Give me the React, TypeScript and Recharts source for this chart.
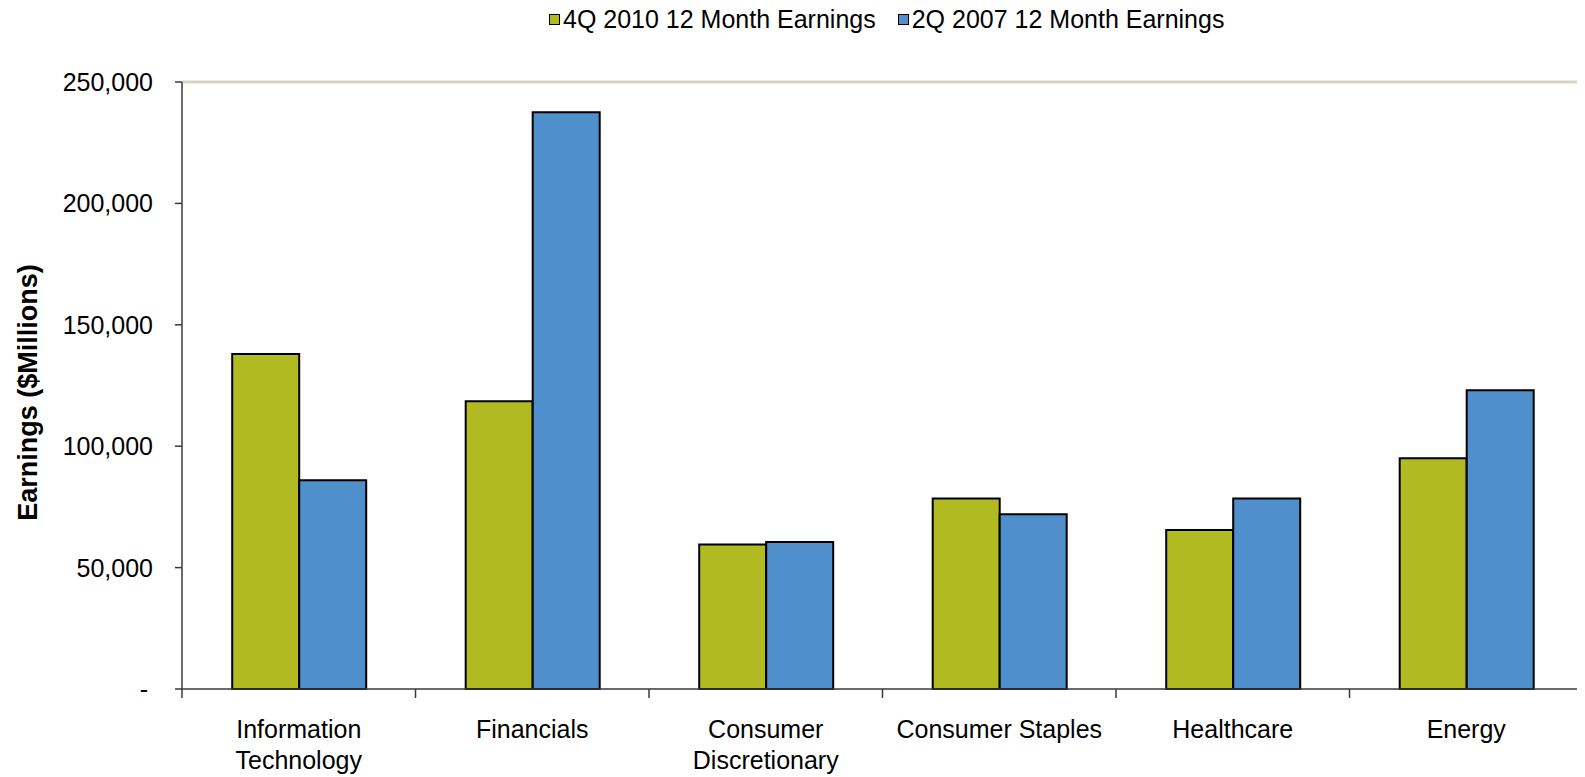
import { BarChart, Bar, XAxis, YAxis, Legend, ReferenceLine } from "recharts"

const categories = [
  "Information Technology",
  "Financials",
  "Consumer Discretionary",
  "Consumer Staples",
  "Healthcare",
  "Energy"
]

// tick labels as they wrap in the picture
const tickLines = [
  ["Information", "Technology"],
  ["Financials"],
  ["Consumer", "Discretionary"],
  ["Consumer Staples"],
  ["Healthcare"],
  ["Energy"]
]

const earnings2010 = [138000, 118500, 59500, 78500, 65500, 95000]
const earnings2007 = [86000, 237500, 60500, 72000, 78500, 123000]

const yTicks = [0, 50000, 100000, 150000, 200000, 250000]

const seriesNames = ["4Q 2010 12 Month Earnings", "2Q 2007 12 Month Earnings"]
const seriesColors = ["#B1BA20", "#4F8FCC"]

const data = categories.map((name, i) => ({
  name,
  q2010: earnings2010[i],
  q2007: earnings2007[i]
}))

const FONT = "'Liberation Sans', Arial, sans-serif"
const AXIS = "#3a3a3a"

function XTick(props: any) {
  const { x, y, payload, index } = props
  const half = payload?.offset || 116.8
  const lines = tickLines[index] || [String(payload.value)]
  return (
    <g>
      <line x1={x - half} x2={x - half} y1={y} y2={y + 9} stroke={AXIS} strokeWidth={1.5} />
      {index === categories.length - 1 && (
        <line x1={x + half} x2={x + half} y1={y} y2={y + 9} stroke={AXIS} strokeWidth={1.5} />
      )}
      {lines.map((t: string, k: number) => (
        <text
          key={k}
          x={x}
          y={y + 49 + k * 31}
          textAnchor="middle"
          fontFamily={FONT}
          fontSize={25}
          fill="#000"
        >
          {t}
        </text>
      ))}
    </g>
  )
}

function YTick(props: any) {
  const { x, y, payload } = props
  const v = payload.value
  const label = v === 0 ? "-" : v.toLocaleString("en-US")
  return (
    <text
      x={v === 0 ? x - 5 : x}
      y={y}
      dy={9}
      textAnchor="end"
      fontFamily={FONT}
      fontSize={25}
      fill="#000"
    >
      {label}
    </text>
  )
}

function LegendBox() {
  return (
    <div
      style={{
        display: "flex",
        alignItems: "center",
        gap: 22,
        fontFamily: FONT,
        fontSize: 25,
        lineHeight: "29px",
        color: "#000",
        whiteSpace: "nowrap"
      }}
    >
      {seriesNames.map((n, i) => (
        <div key={n} style={{ display: "flex", alignItems: "center" }}>
          <span
            style={{
              display: "inline-block",
              width: 9,
              height: 9,
              background: seriesColors[i],
              border: "1.5px solid #000",
              marginRight: 3
            }}
          />
          <span>{n}</span>
        </div>
      ))}
    </div>
  )
}

function YLabel(props: any) {
  const { viewBox } = props
  const cy = viewBox.y + viewBox.height / 2 + 7
  const bx = 29
  return (
    <text
      x={bx}
      y={cy}
      transform={`rotate(-90, ${bx}, ${cy})`}
      textAnchor="middle"
      fontFamily={FONT}
      fontSize={27}
      fontWeight="bold"
      fill="#000"
    >
      Earnings ($Millions)
    </text>
  )
}

export default function App() {
  return (
    <BarChart
      width={1577}
      height={769}
      data={data}
      margin={{ top: 45, right: 1, bottom: 0, left: 0 }}
      barCategoryGap="21.5%"
      barGap={0}
    >
      <XAxis
        dataKey="name"
        height={88}
        stroke={AXIS}
        strokeWidth={1.5}
        tickLine={false}
        tickSize={0}
        tickMargin={0}
        interval={0}
        tick={<XTick />}
      />
      <YAxis
        width={174}
        domain={[0, 250000]}
        ticks={yTicks}
        stroke={AXIS}
        strokeWidth={1.5}
        tickSize={7}
        tickMargin={22}
        tick={<YTick />}
        label={<YLabel />}
      />
      <YAxis
        yAxisId="right"
        orientation="right"
        width={1}
        tick={false}
        tickLine={false}
        stroke="#DAD3C3"
        strokeWidth={2}
      />
      <ReferenceLine y={250000} stroke="#DAD3C3" strokeWidth={3} />
      <Legend
        verticalAlign="top"
        align="left"
        wrapperStyle={{ top: -3, left: 541, width: "auto" }}
        content={<LegendBox />}
      />
      <Bar
        dataKey="q2010"
        name={seriesNames[0]}
        fill={seriesColors[0]}
        stroke="#000"
        strokeWidth={2}
        isAnimationActive={false}
      />
      <Bar
        dataKey="q2007"
        name={seriesNames[1]}
        fill={seriesColors[1]}
        stroke="#000"
        strokeWidth={2}
        isAnimationActive={false}
      />
    </BarChart>
  )
}
